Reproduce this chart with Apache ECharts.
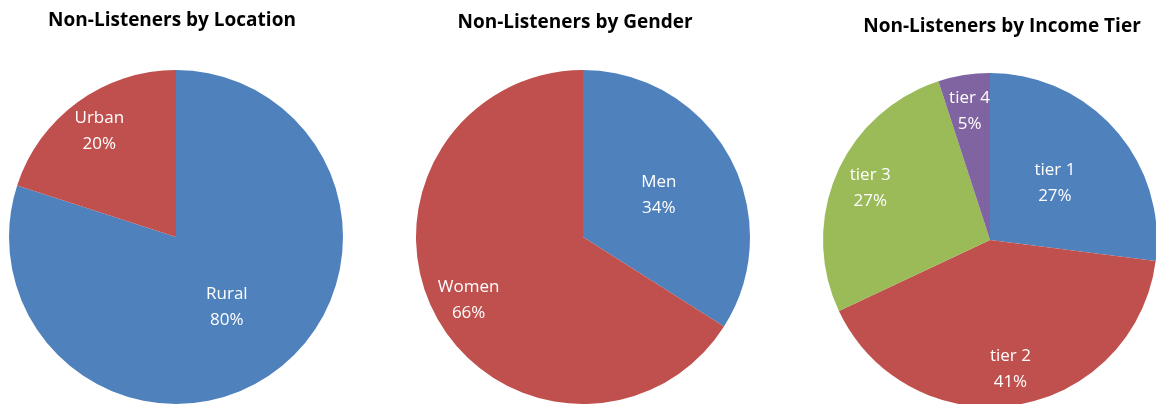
<!DOCTYPE html>
<html>
<head>
<meta charset="utf-8">
<script src="https://cdn.jsdelivr.net/npm/echarts@6/dist/echarts.min.js"></script>
<style>
  html, body { margin: 0; padding: 0; background: #fff; }
  #main { width: 1156px; height: 404px; }
</style>
</head>
<body>
<div id="main"></div>
<script>
  // 数据
  const titles = ['Non-Listeners by Location', 'Non-Listeners by Gender', 'Non-Listeners by Income Tier'];

  const locationNames = ['Rural', 'Urban'];
  const locationValues = [80, 20];

  const genderNames = ['Men', 'Women'];
  const genderValues = [34, 66];

  const incomeNames = ['tier 1', 'tier 2', 'tier 3', 'tier 4'];
  const incomeValues = [27, 41, 27, 5];

  // Excel 2007 palette
  const blue = '#4f81bd', red = '#c0504d', green = '#9bbb59', purple = '#8064a2';

  let myChart = echarts.init(document.getElementById('main'));

  // labels that excel pushes further out ("best fit")
  function buildData(names, values, colors, farList) {
    let total = values.reduce((a, b) => a + b, 0);
    let acc = 0;
    return names.map((n, i) => {
      let mid = (acc + values[i] / 2) / total * Math.PI * 2;
      acc += values[i];
      let push = farList.indexOf(n) >= 0 ? 44 : 0;
      return {
        name: n,
        value: values[i],
        itemStyle: { color: colors[i] },
        label: { offset: [Math.sin(mid) * push, -Math.cos(mid) * push] }
      };
    });
  }

  function pieSeries(center, data) {
    return {
      type: 'pie',
      center: center,
      radius: [0, 167],
      startAngle: 90,
      clockwise: true,
      silent: true,
      animation: false,
      itemStyle: { borderWidth: 0 },
      label: {
        show: true,
        position: 'inside',
        color: '#fff',
        fontFamily: 'Open Sans',
        fontSize: 17,
        lineHeight: 26,
        formatter: '{b}\n{c}%'
      },
      labelLine: { show: false },
      data: data
    };
  }

  let titleStyle = { fontFamily: 'Open Sans', fontSize: 19, fontWeight: 'bold', color: '#000' };

  let option = {
    backgroundColor: '#fff',
    title: [
      { text: titles[0], left: 167, top: 6, textAlign: 'center', textStyle: titleStyle },
      { text: titles[1], left: 570, top: 8, textAlign: 'center', textStyle: titleStyle },
      { text: titles[2], left: 997, top: 12, textAlign: 'center', textStyle: titleStyle }
    ],
    series: [
      pieSeries([176, 237], buildData(locationNames, locationValues, [blue, red], ['Urban'])),
      pieSeries([583, 237], buildData(genderNames, genderValues, [blue, red], ['Women'])),
      pieSeries([990, 240], buildData(incomeNames, incomeValues, [blue, red, green, purple], ['tier 2', 'tier 3', 'tier 4']))
    ]
  };

  myChart.setOption(option);
</script>
</body>
</html>
